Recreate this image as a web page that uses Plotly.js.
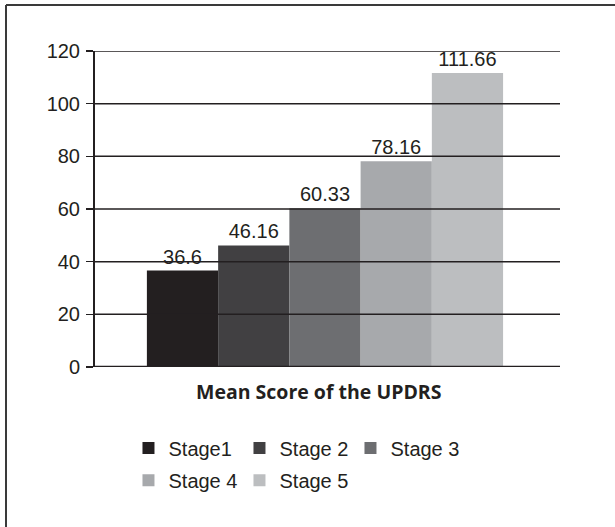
<!DOCTYPE html>
<html>
<head>
<meta charset="utf-8">
<script src="https://cdn.plot.ly/plotly-3.0.1.min.js"></script>
<style>
  html, body { margin: 0; padding: 0; background: #fff; }
  #chart { width: 615px; height: 527px; }
</style>
</head>
<body>
<div id="chart"></div>
<script>
const categories = ["Mean Score of the UPDRS"];
const stages = ["Stage1", "Stage 2", "Stage 3", "Stage 4", "Stage 5"];
const meanScores = [36.6, 46.16, 60.33, 78.16, 111.66];
const scoreLabels = ["36.6", "46.16", "60.33", "78.16", "111.66"];
const yTicks = [0, 20, 40, 60, 80, 100, 120];
const colors = ["#231f20", "#414042", "#6d6e71", "#a7a9ac", "#bcbec0"];

const narrow = '"Liberation Sans Narrow", "Liberation Sans", Arial, sans-serif';
const ink = "#231f20";

const traces = stages.map((s, i) => ({
  type: "bar",
  name: s,
  x: categories,
  y: [meanScores[i]],
  text: [scoreLabels[i]],
  textposition: "outside",
  cliponaxis: false,
  textfont: { family: narrow, size: 20, color: ink },
  marker: { color: colors[i], line: { width: 0 } },
  legend: i < 3 ? "legend" : "legend2",
  hoverinfo: "none"
}));

const shapes = [];
yTicks.forEach(v => {
  shapes.push({
    type: "line", xref: "paper", yref: "y", layer: "above",
    x0: 0, x1: 1, y0: v, y1: v,
    line: { color: ink, width: v === 0 ? 2.5 : 1.5 }
  });
});
// y-axis line extension below zero
shapes.push({
  type: "line", xref: "paper", yref: "y", ysizemode: "pixel", yanchor: 0,
  x0: 0, x1: 0, y0: -7, y1: 0, layer: "above",
  line: { color: ink, width: 2 }
});
// frame (top & left)
shapes.push({
  type: "line", xref: "paper", yref: "paper", xsizemode: "pixel", ysizemode: "pixel",
  xanchor: 0, yanchor: 0, x0: -89, x1: 540, y0: 362, y1: 362, layer: "above",
  line: { color: "#3a3a3a", width: 2 }
});
shapes.push({
  type: "line", xref: "paper", yref: "paper", xsizemode: "pixel", ysizemode: "pixel",
  xanchor: 0, yanchor: 0, x0: -89, x1: -89, y0: 362, y1: -200, layer: "above",
  line: { color: "#3a3a3a", width: 2 }
});

const legendBase = {
  orientation: "h", xref: "paper", yref: "paper",
  xanchor: "left", yanchor: "middle",
  font: { family: narrow, size: 20, color: ink },
  entrywidth: 66, entrywidthmode: "pixels", traceorder: "normal",
  bgcolor: "rgba(0,0,0,0)"
};

const layout = {
  width: 615, height: 527,
  margin: { l: 95, r: 55, t: 51, b: 160 },
  paper_bgcolor: "#fff", plot_bgcolor: "#fff",
  barmode: "group", bargap: 0.234, bargroupgap: 0,
  showlegend: true,
  xaxis: {
    type: "category", range: [-0.4946, 0.5054],
    showticklabels: false, showgrid: false, zeroline: false, showline: false, ticks: ""
  },
  yaxis: {
    range: [0, 120], tickvals: yTicks, ticktext: yTicks.map(String),
    showgrid: false, zeroline: false,
    showline: true, linecolor: ink, linewidth: 2,
    ticks: "outside", ticklen: 7, tickwidth: 1.5, tickcolor: ink,
    ticklabelstandoff: 2,
    tickfont: { family: narrow, size: 20, color: ink }
  },
  legend: Object.assign({}, legendBase, { x: 0.072, y: -0.256 }),
  legend2: Object.assign({}, legendBase, { x: 0.072, y: -0.358 }),
  annotations: [{
    text: "<b>Mean Score of the UPDRS</b>",
    xref: "paper", yref: "paper", x: 0.4817, y: -0.076,
    xanchor: "center", yanchor: "middle", showarrow: false,
    font: { family: "'Open Sans', Lato, sans-serif", size: 19.5, color: ink }
  }],
  shapes: shapes
};

Plotly.newPlot("chart", traces, layout, { displayModeBar: false, staticPlot: true });
</script>
</body>
</html>
